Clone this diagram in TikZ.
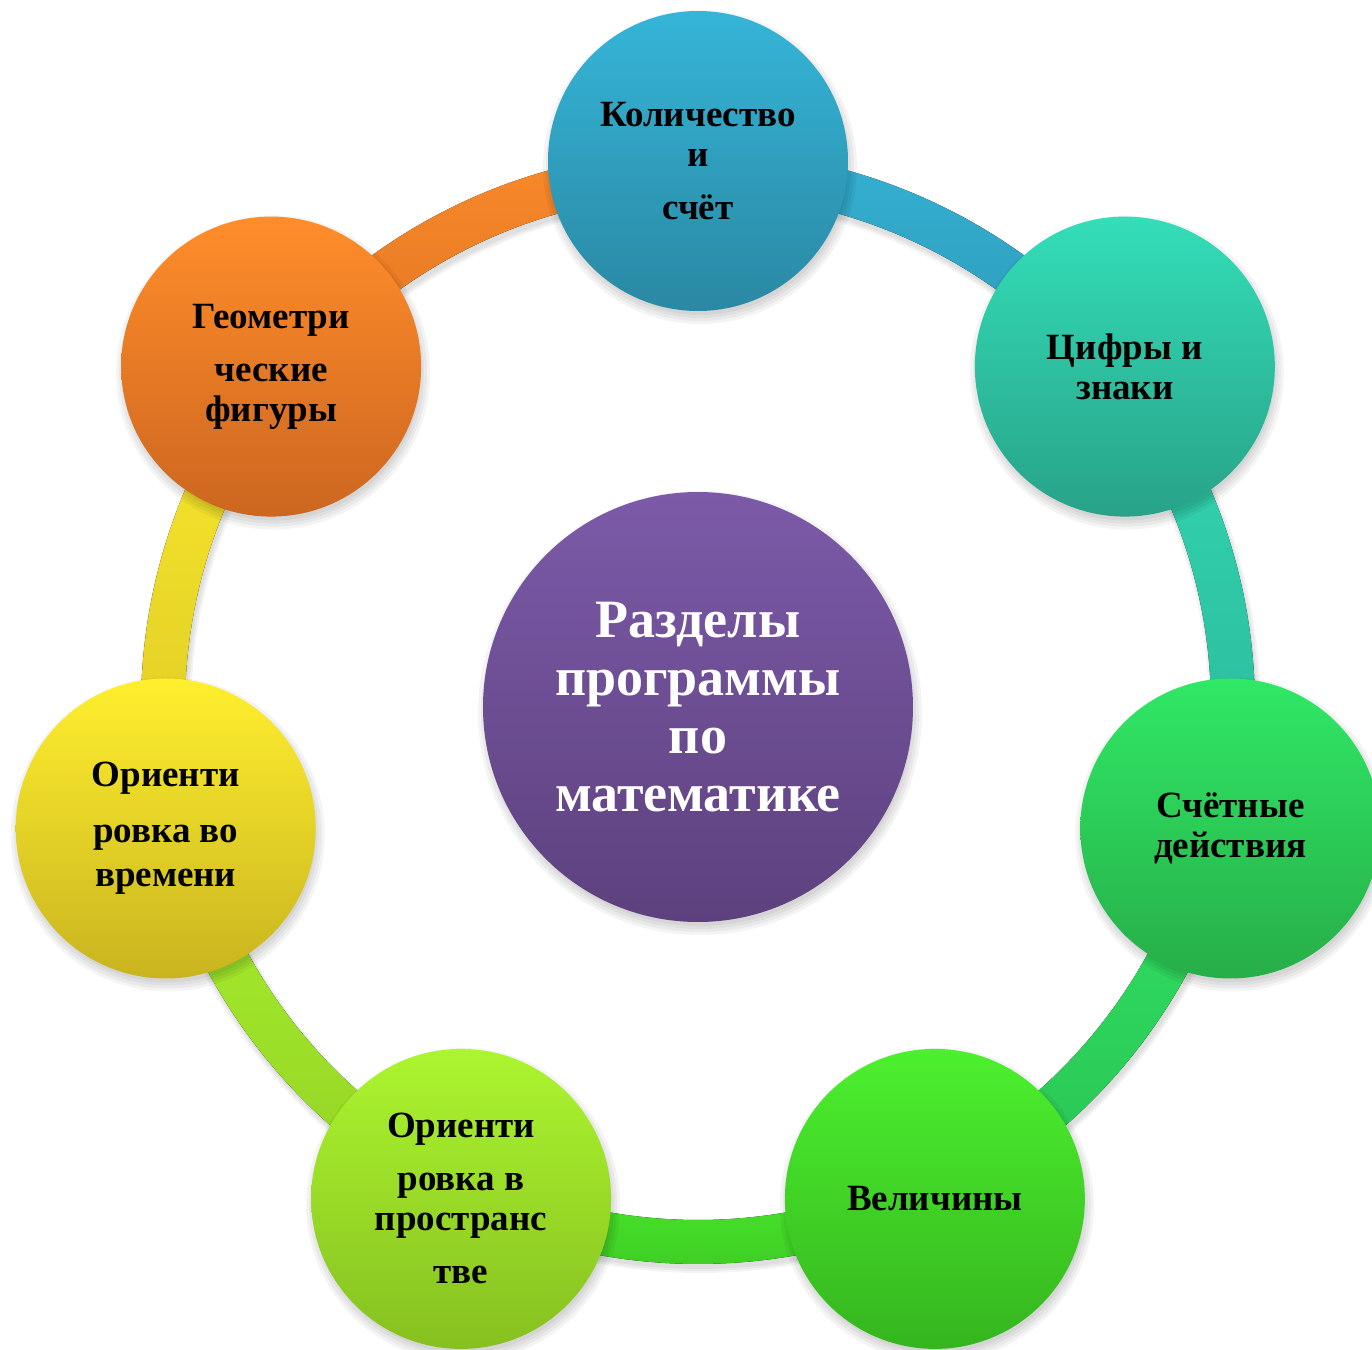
\documentclass[tikz,border=0pt]{standalone}
\usepackage{fontspec}
\setmainfont{Liberation Serif}
\usetikzlibrary{backgrounds}
\definecolor{bluT}{HTML}{35B5D8}\definecolor{bluB}{HTML}{2A88A3}
\definecolor{teaT}{HTML}{33DEB8}\definecolor{teaB}{HTML}{28A288}
\definecolor{grnT}{HTML}{30E866}\definecolor{grnB}{HTML}{27AE48}
\definecolor{lgrT}{HTML}{4CF02E}\definecolor{lgrB}{HTML}{35B51E}
\definecolor{limT}{HTML}{ACF52F}\definecolor{limB}{HTML}{86C020}
\definecolor{yelT}{HTML}{FFEF2E}\definecolor{yelB}{HTML}{C9B41F}
\definecolor{oraT}{HTML}{FF8D2A}\definecolor{oraB}{HTML}{CC6620}
\definecolor{purT}{HTML}{7C5AA8}\definecolor{purB}{HTML}{5D417E}
\begin{document}
\begin{tikzpicture}[x=0.5pt,y=0.5pt,
  bub/.style={circle, minimum size=150pt, inner sep=0pt, align=center,
    font=\fontsize{18.5}{20}\selectfont\bfseries, text=black},
  hub/.style={circle, minimum size=215pt, inner sep=0pt, align=center,
    font=\fontsize{27}{29}\selectfont\bfseries, text=white,
    top color=purT, bottom color=purB},
  shd/.style={black, opacity=0.045}
]
\useasboundingbox (-698,707) rectangle (674,-643);
\clip (-698,707) rectangle (674,-643);

\node[hub] (hub) at (0,0) {Разделы\\ программы\\ по\\ математике};

\node[bub, top color=bluT, bottom color=bluB] (n0) at (90:546) {Количество\\ и\\[6.5pt] счёт};
\node[bub, top color=teaT, bottom color=teaB] (n1) at (38.5714:546) {Цифры и\\ знаки};
\node[bub, top color=grnT, bottom color=grnB] (n2) at (-12.8571:546) {Счётные\\ действия};
\node[bub, top color=lgrT, bottom color=lgrB] (n3) at (-64.2857:546) {Величины};
\node[bub, top color=limT, bottom color=limB] (n4) at (-115.7143:546) {Ориенти\\[6.5pt] ровка в\\ пространс\\[6.5pt] тве};
\node[bub, top color=yelT, bottom color=yelB] (n5) at (-167.1429:546) {Ориенти\\[8pt] ровка во\\[2pt] времени};
\node[bub, top color=oraT, bottom color=oraB] (n6) at (141.4286:546) {Геометри\\[6.5pt] ческие\\ фигуры};

\begin{scope}[on background layer]
  % arc shadows
  \foreach \s/\e/\a in {n0/n1/90, n1/n2/38.5714, n2/n3/-12.8571, n3/n4/-64.2857,
                        n4/n5/-115.7143, n5/n6/-167.1429, n6/n0/141.4286}{
    \pgfmathsetmacro{\b}{\a-51.4286}
    \foreach \d in {0,2,4}{
      \fill[shd] ([xshift=1pt,yshift=-2.5pt,shift={(\a:11+\d)}]\s.center)
        arc[start angle=\a, delta angle=-51.4286, radius=557+\d]
        -- ([xshift=1pt,yshift=-2.5pt,shift={(\b:-33-\d)}]\e.center)
        arc[start angle=\b, delta angle=51.4286, radius=513-\d] -- cycle;
    }
  }
  % arcs
  \foreach \s/\e/\a/\cT/\cB in {n0/n1/90/bluT/bluB, n1/n2/38.5714/teaT/teaB,
      n2/n3/-12.8571/grnT/grnB, n3/n4/-64.2857/lgrT/lgrB,
      n4/n5/-115.7143/limT/limB, n5/n6/-167.1429/yelT/yelB,
      n6/n0/141.4286/oraT/oraB}{
    \pgfmathsetmacro{\b}{\a-51.4286}
    \fill[top color=\cT!90!\cB, bottom color=\cT!35!\cB]
      ([shift={(\a:11)}]\s.center)
      arc[start angle=\a, delta angle=-51.4286, radius=557]
      -- ([shift={(\b:-33)}]\e.center)
      arc[start angle=\b, delta angle=51.4286, radius=513] -- cycle;
  }
  % circle shadows
  \foreach \n in {n0,n1,n2,n3,n4,n5,n6}{
    \foreach \d in {-2,1,4,7}{
      \fill[shd] ([shift={(2,-6)}]\n.center) circle (150+\d);
    }
  }
  \foreach \d in {-2,1,4,7}{
    \fill[shd] ([shift={(2,-6)}]hub.center) circle (215+\d);
  }
\end{scope}
\end{tikzpicture}
\end{document}
